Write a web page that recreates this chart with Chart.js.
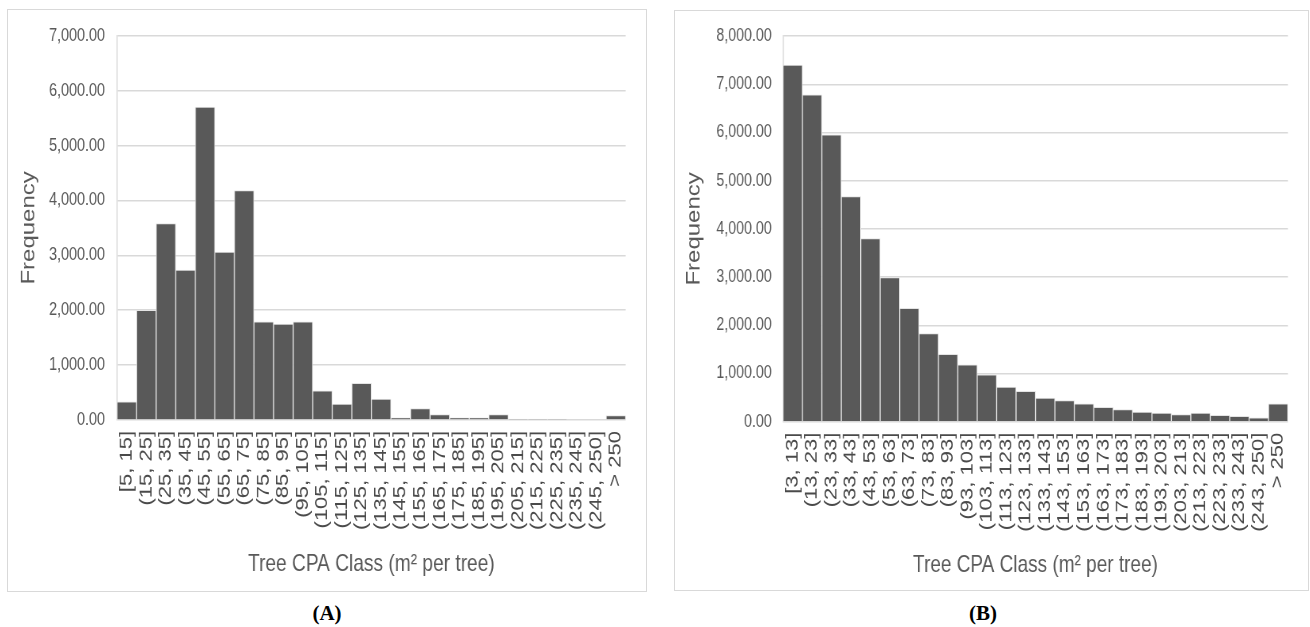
<!DOCTYPE html>
<html>
<head>
<meta charset="utf-8">
<script src="https://cdn.jsdelivr.net/npm/chart.js@4.4.1/dist/chart.umd.min.js"></script>
<style>
  html, body { margin: 0; padding: 0; background: #fff; width: 1310px; height: 627px; overflow: hidden; }
  .panel { position: absolute; border: 1px solid #d9d9d9; box-sizing: border-box; overflow: hidden; background: #fff; }
  .squeeze { position: absolute; left: 0; top: 0; transform-origin: 0 0; }
  .squeeze canvas { display: block; }
  .cap { position: absolute; font-family: 'Liberation Serif', 'Times New Roman', serif; font-weight: bold;
         font-size: 21px; color: #000; transform: translateX(-50%); white-space: nowrap; }
</style>
</head>
<body>
<div class="panel" id="panelA" style="left:7px; top:9px; width:640px; height:583px;">
  <div class="squeeze" id="wrapA"><canvas id="chartA"></canvas></div>
</div>
<div class="panel" id="panelB" style="left:674px; top:10px; width:635px; height:581px;">
  <div class="squeeze" id="wrapB"><canvas id="chartB"></canvas></div>
</div>
<div class="cap" style="left:327px; top:601px;">(<span>A</span>)</div>
<div class="cap" style="left:983px; top:601px;">(<span>B</span>)</div>

<script>
// Crown projection area classes and tree counts, panel A
const classesA = ['[5, 15]', '(15, 25]', '(25, 35]', '(35, 45]', '(45, 55]', '(55, 65]', '(65, 75]',
  '(75, 85]', '(85, 95]', '(95, 105]', '(105, 115]', '(115, 125]', '(125, 135]', '(135, 145]',
  '(145, 155]', '(155, 165]', '(165, 175]', '(175, 185]', '(185, 195]', '(195, 205]', '(205, 215]',
  '(215, 225]', '(225, 235]', '(235, 245]', '(245, 250]', '> 250'];
const freqA = [330, 2000, 3580, 2730, 5700, 3060, 4180, 1790, 1750, 1790, 530, 290, 670, 380,
  40, 210, 100, 40, 40, 100, 15, 15, 15, 0, 0, 80];
const yMaxA = 7000;

// Crown projection area classes and tree counts, panel B
const classesB = ['[3, 13]', '(13, 23]', '(23, 33]', '(33, 43]', '(43, 53]', '(53, 63]', '(63, 73]',
  '(73, 83]', '(83, 93]', '(93, 103]', '(103, 113]', '(113, 123]', '(123, 133]', '(133, 143]',
  '(143, 153]', '(153, 163]', '(163, 173]', '(173, 183]', '(183, 193]', '(193, 203]', '(203, 213]',
  '(213, 223]', '(223, 233]', '(233, 243]', '(243, 250]', '> 250'];
const freqB = [7400, 6780, 5950, 4670, 3800, 2990, 2350, 1830, 1400, 1180, 970, 720, 630, 490,
  440, 370, 300, 250, 200, 180, 150, 180, 130, 110, 80, 370];
const yMaxB = 8000;

const yStep = 1000;
const axisTitleX = 'Tree CPA Class (m\u00B2 per tree)';
const axisTitleY = 'Frequency';

const TEXT = '#595959';
const TICK_X = '#4a4a4a';
const GRID = '#d9d9d9';
const SANS = "'Liberation Sans', Arial, sans-serif";
const INNER_W = 800;   // drawing width before the horizontal squeeze

function fmt(v) {
  const whole = Math.round(v).toString().replace(/\B(?=(\d{3})+(?!\d))/g, ',');
  return whole + '.00';
}

function buildChart(panelId, wrapId, canvasId, labels, values, yMax, g) {
  const panel = document.getElementById(panelId);
  const wrap = document.getElementById(wrapId);
  const cw = panel.clientWidth, ch = panel.clientHeight;
  const s = cw / INNER_W;
  wrap.style.width = INNER_W + 'px';
  wrap.style.height = ch + 'px';
  wrap.style.transform = 'scaleX(' + s + ')';

  const yW = g.plotLeft / s;
  const padRight = INNER_W - g.plotRight / s;
  const xH = ch - g.plotBottom;

  return new Chart(document.getElementById(canvasId), {
    type: 'bar',
    data: {
      labels: labels,
      datasets: [{
        data: values,
        backgroundColor: '#595959',
        borderColor: '#e4e4e4',
        borderWidth: 1,
        categoryPercentage: 1.0,
        barPercentage: 1.0
      }]
    },
    options: {
      responsive: true,
      maintainAspectRatio: false,
      animation: false,
      events: [],
      layout: { padding: { left: 0, right: padRight, top: g.plotTop, bottom: 0 } },
      plugins: { legend: { display: false }, tooltip: { enabled: false } },
      scales: {
        x: {
          grid: { display: false, drawTicks: false },
          border: { display: false },
          ticks: {
            autoSkip: false, minRotation: 90, maxRotation: 90, padding: g.xTickPad,
            color: TICK_X, font: { family: SANS, size: 22 }
          },
          title: {
            display: true, text: axisTitleX, color: TEXT,
            font: { family: SANS, size: 24 }, padding: { top: 0, bottom: g.xTitlePad }
          },
          afterFit: (sc) => { sc.height = xH; }
        },
        y: {
          min: 0, max: yMax,
          grid: { color: GRID, lineWidth: 1.5, drawTicks: false },
          border: { display: true, color: GRID, width: 1.5 },
          ticks: {
            stepSize: yStep, padding: g.yTickPad / s, color: TEXT,
            font: { family: SANS, size: 18 }, callback: (v) => fmt(v)
          },
          title: {
            display: true, text: axisTitleY, color: TEXT,
            font: { family: SANS, size: 24 }, padding: { top: g.yTitleCenter / s - 14.4, bottom: 0 }
          },
          afterFit: (sc) => { sc.width = yW; }
        }
      }
    }
  });
}

buildChart('panelA', 'wrapA', 'chartA', classesA, freqA, yMaxA, {
  plotLeft: 109, plotRight: 625, plotTop: 24, plotBottom: 410,
  yTickPad: 12, yTitleCenter: 21, xTickPad: 11, xTitlePad: 12
});
buildChart('panelB', 'wrapB', 'chartB', classesB, freqB, yMaxB, {
  plotLeft: 108, plotRight: 623, plotTop: 24.7, plotBottom: 410.7,
  yTickPad: 11.3, yTitleCenter: 19, xTickPad: 11, xTitlePad: 10
});
</script>
</body>
</html>
